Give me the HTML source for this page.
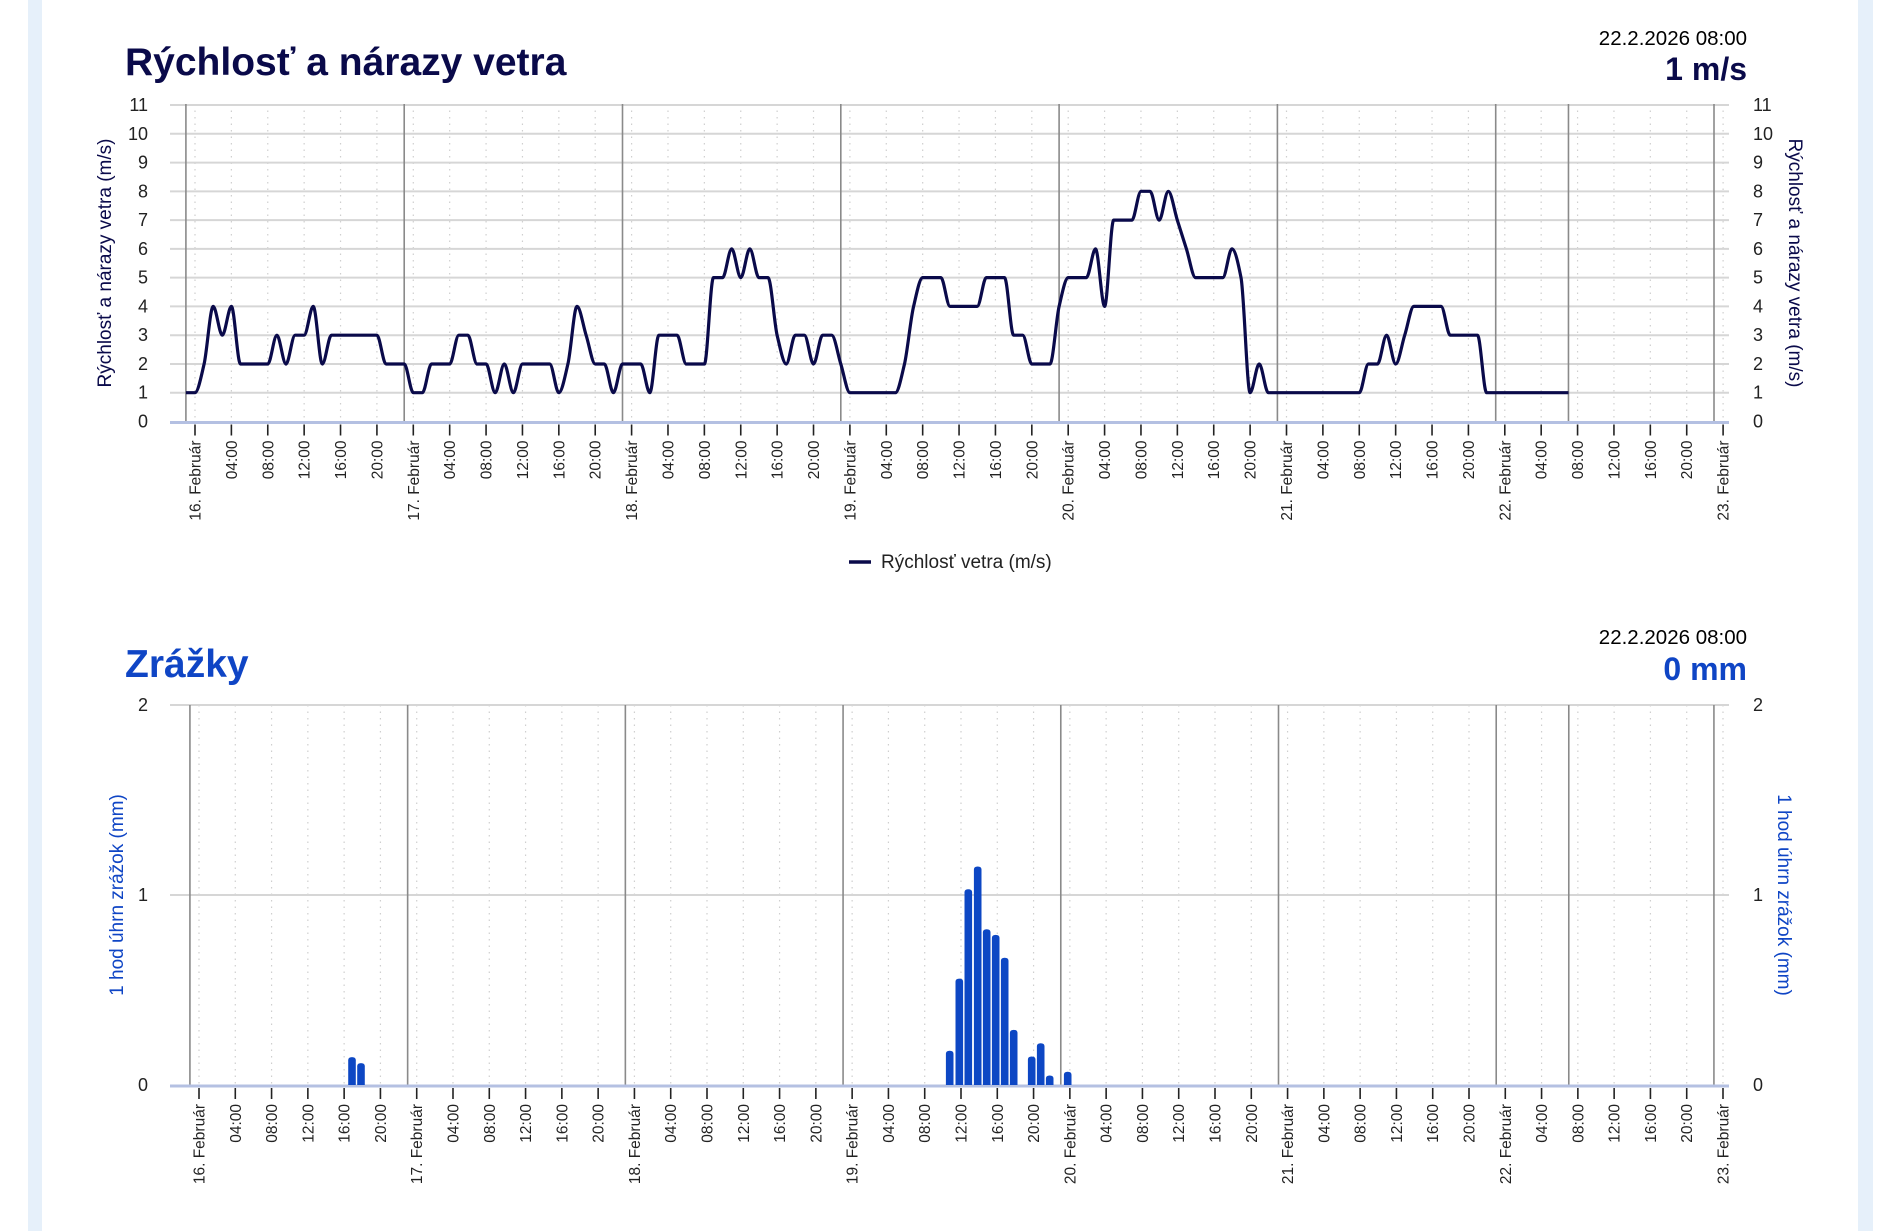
<!DOCTYPE html>
<html><head><meta charset="utf-8">
<style>
html,body{margin:0;padding:0;background:#fff;}
svg{display:block;font-family:"Liberation Sans",Arial,sans-serif;}
</style></head>
<body>
<svg id="s" width="1888" height="1231" viewBox="0 0 1888 1231" xmlns="http://www.w3.org/2000/svg">
<rect x="0" y="0" width="1888" height="1231" fill="#fff"/>
<rect x="28" y="0" width="14" height="1231" fill="#e6f0fa"/>
<rect x="1858" y="0" width="15" height="1231" fill="#e6f0fa"/>
<g id="g"></g>
<text x="125" y="75" font-size="39" font-weight="bold" fill="#0a0a4a">Rýchlosť a nárazy vetra</text>
<text x="1747" y="45" font-size="20.5" text-anchor="end" fill="#000">22.2.2026 08:00</text>
<text x="1747" y="80" font-size="32" font-weight="bold" text-anchor="end" fill="#0a0a4a">1 m/s</text>
<text transform="translate(111,263) rotate(-90)" font-size="19" text-anchor="middle" fill="#0a0a4a">Rýchlosť a nárazy vetra (m/s)</text>
<text transform="translate(1789,263) rotate(90)" font-size="19" text-anchor="middle" fill="#0a0a4a">Rýchlosť a nárazy vetra (m/s)</text>
<line x1="849" y1="562" x2="871" y2="562" stroke="#0a0a4a" stroke-width="3.5"/>
<text x="881" y="568" font-size="19" fill="#222">Rýchlosť vetra (m/s)</text>
<text x="125" y="677" font-size="39" font-weight="bold" fill="#0f45c5">Zrážky</text>
<text x="1747" y="644" font-size="20.5" text-anchor="end" fill="#000">22.2.2026 08:00</text>
<text x="1747" y="680" font-size="32" font-weight="bold" text-anchor="end" fill="#0f45c5">0 mm</text>
<text transform="translate(123,895) rotate(-90)" font-size="19" text-anchor="middle" fill="#0f45c5">1 hod úhrn zrážok (mm)</text>
<text transform="translate(1778,895) rotate(90)" font-size="19" text-anchor="middle" fill="#0f45c5">1 hod úhrn zrážok (mm)</text>
</svg>
<script>
(function(){
var g=document.getElementById('g');var NS='http://www.w3.org/2000/svg';
function el(t,a,txt){var e=document.createElementNS(NS,t);for(var k in a)e.setAttribute(k,a[k]);if(txt!=null)e.textContent=txt;g.appendChild(e);return e;}
function chart(o){
  var L=o.L,R=o.R,T=o.T,B=o.B,t0=o.t0,ph=o.ph;
  function X(h){return t0+h*ph;}
  for(var h=0;h<=168;h+=4){var x=X(h);
    el('line',{x1:x,y1:T,x2:x,y2:B,stroke:'#cfcfcf','stroke-width':1.2,'stroke-dasharray':'1.5,5'});}
  for(var v=0;v<=o.max;v+=1){var y=B-v*o.uy;
    if(v>0)el('line',{x1:L,y1:y,x2:R,y2:y,stroke:'#d6d6d6','stroke-width':2});
    el('text',{x:o.lx,y:y+6,'font-size':18,'text-anchor':'end',fill:'#222'},String(v));
    el('text',{x:o.rx,y:y+6,'font-size':18,fill:'#222'},String(v));}
  for(var d=0;d<=7;d++){var x=X(d*24-1);
    el('line',{x1:x,y1:T,x2:x,y2:B,stroke:'#8a8a8a','stroke-width':1.6});}
  var xc=X(151);el('line',{x1:xc,y1:T,x2:xc,y2:B,stroke:'#8a8a8a','stroke-width':1.6});
  el('line',{x1:L,y1:B+1,x2:R,y2:B+1,stroke:'#b4c0e2','stroke-width':3});
  var days=['16','17','18','19','20','21','22','23'];
  for(var h=0;h<=168;h+=4){var x=X(h);
    el('line',{x1:x,y1:B+3,x2:x,y2:B+14,stroke:'#222','stroke-width':1.6});
    var lab=(h%24==0)?days[h/24]+'. Február':((h%24<10?'0':'')+(h%24)+':00');
    el('text',{transform:'translate('+(x+5.5)+','+(B+19)+') rotate(-90)','font-size':15.5,'text-anchor':'end',fill:'#222'},lab);}
}
var T1={L:170,R:1729,T:104,B:421.5,t0:195,ph:218.3/24,uy:28.77,max:11,lx:148,rx:1753};
chart(T1);
var w=[];
function set(a,b,v){for(var i=a;i<=b;i++)w[i+1]=v;}
set(-1,0,1);set(1,1,2);set(2,2,4);set(3,3,3);set(4,4,4);set(5,8,2);set(9,9,3);set(10,10,2);set(11,12,3);set(13,13,4);set(14,14,2);set(15,20,3);set(21,23,2);set(24,25,1);set(26,28,2);set(29,30,3);set(31,32,2);set(33,33,1);set(34,34,2);set(35,35,1);set(36,39,2);set(40,40,1);set(41,41,2);set(42,42,4);set(43,43,3);set(44,45,2);set(46,46,1);set(47,49,2);set(50,50,1);set(51,53,3);set(54,56,2);set(57,58,5);set(59,59,6);set(60,60,5);set(61,61,6);set(62,63,5);set(64,64,3);set(65,65,2);set(66,67,3);set(68,68,2);set(69,70,3);set(71,71,2);set(72,77,1);set(78,78,2);set(79,79,4);set(80,82,5);set(83,86,4);set(87,89,5);set(90,91,3);set(92,94,2);set(95,95,4);set(96,98,5);set(99,99,6);set(100,100,4);set(101,103,7);set(104,105,8);set(106,106,7);set(107,107,8);set(108,108,7);set(109,109,6);set(110,113,5);set(114,114,6);set(115,115,5);set(116,116,1);set(117,117,2);set(118,128,1);set(129,130,2);set(131,131,3);set(132,132,2);set(133,133,3);set(134,137,4);set(138,141,3);set(142,151,1);
var px=[],py=[];for(var i=0;i<w.length;i++){px.push(T1.t0+(i-1)*T1.ph);py.push(T1.B-w[i]*T1.uy);}
var n=px.length,m=[],dl=[];
for(var i=0;i<n-1;i++)dl.push((py[i+1]-py[i])/(px[i+1]-px[i]));
m[0]=dl[0];m[n-1]=dl[n-2];
for(var i=1;i<n-1;i++){if(dl[i-1]*dl[i]<=0)m[i]=0;else m[i]=2/(1/dl[i-1]+1/dl[i]);}
var d='M'+px[0].toFixed(1)+','+py[0].toFixed(1);
for(var i=0;i<n-1;i++){var hh=(px[i+1]-px[i])/3;
 d+='C'+(px[i]+hh).toFixed(1)+','+(py[i]+m[i]*hh).toFixed(1)+' '+(px[i+1]-hh).toFixed(1)+','+(py[i+1]-m[i+1]*hh).toFixed(1)+' '+px[i+1].toFixed(1)+','+py[i+1].toFixed(1);}
el('path',{d:d,fill:'none',stroke:'#0a0a4a','stroke-width':3.2,'stroke-linejoin':'round'});
var T2={L:170,R:1729,T:705,B:1085,t0:199,ph:1524/168,uy:190,max:2,lx:148,rx:1753};
chart(T2);
var bars=[[352,0.147],[361,0.115],[949.7,0.18],[959.3,0.56],[968.3,1.03],[977.7,1.15],[986.7,0.82],[995.7,0.79],[1004.7,0.67],[1013.7,0.29],[1031.7,0.15],[1040.7,0.22],[1049.7,0.05],[1067.7,0.07]];
bars.forEach(function(b){var hgt=b[1]*190,x=b[0]-3.8,y=1085-hgt;
 el('path',{d:'M'+x+','+1085+'V'+(y+3)+'Q'+x+','+y+' '+(x+3.8)+','+y+'Q'+(x+7.6)+','+y+' '+(x+7.6)+','+(y+3)+'V1085Z',fill:'#0d47c4'});});
})();
</script>
</body></html>
